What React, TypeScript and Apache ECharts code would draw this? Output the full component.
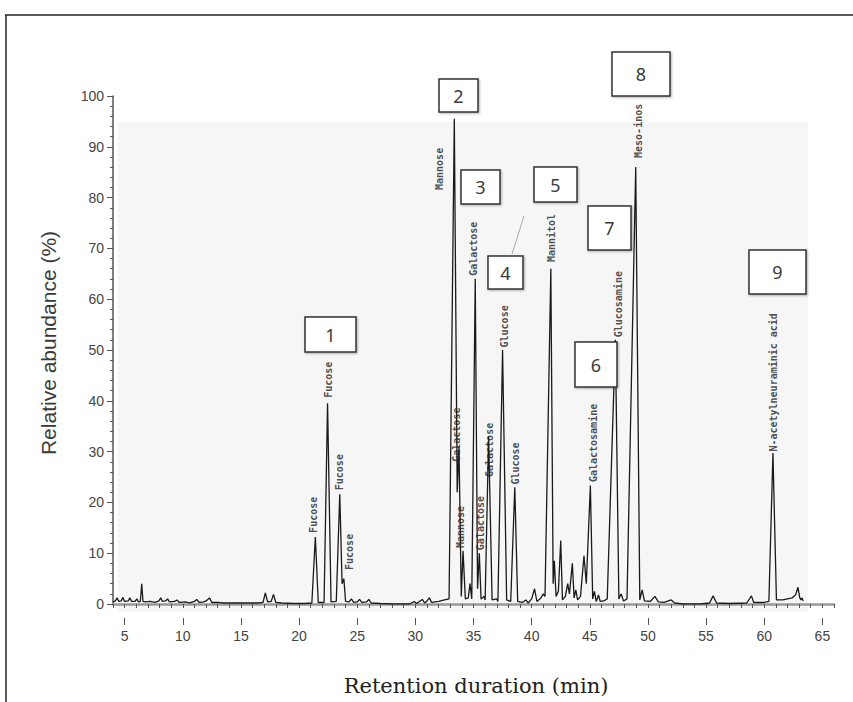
import React, { useEffect, useRef } from "react";
import * as echarts from "echarts";

// Chromatogram trace: [retention time (min), relative abundance (%)]
const trace: [number, number][] = [
  [4.0, 0.4], [4.2, 0.6], [4.35, 1.2], [4.5, 0.5], [4.7, 0.6], [4.85, 1.3], [5.0, 0.5], [5.3, 0.6], [5.45, 1.2], [5.6, 0.5],
  [5.9, 0.5], [6.05, 1.0], [6.2, 0.4], [6.35, 0.5], [6.47, 4.0], [6.58, 0.5], [6.8, 0.4], [7.2, 0.5], [7.6, 0.3], [7.95, 0.6],
  [8.1, 1.2], [8.25, 0.5], [8.5, 0.6], [8.7, 1.0], [8.85, 0.4], [9.3, 0.5], [9.5, 0.8], [9.7, 0.3], [10.2, 0.4], [10.6, 0.2],
  [11.0, 0.5], [11.2, 0.9], [11.4, 0.3], [11.8, 0.4], [12.0, 0.6], [12.3, 1.2], [12.5, 0.3], [13.0, 0.3], [13.5, 0.2], [14.5, 0.2],
  [15.5, 0.2], [16.5, 0.2], [16.9, 0.3], [17.1, 2.2], [17.3, 0.4], [17.6, 0.5], [17.8, 1.9], [18.0, 0.3], [18.5, 0.2], [19.5, 0.1],
  [20.5, 0.1], [21.1, 0.2], [21.4, 13.2], [21.65, 0.3], [22.15, 0.3], [22.45, 39.5], [22.75, 0.4], [23.2, 0.5], [23.5, 21.6], [23.7, 4.0],
  [23.85, 5.0], [24.0, 0.5], [24.3, 0.4], [24.5, 1.0], [24.7, 0.3], [25.0, 0.4], [25.2, 0.9], [25.4, 0.3], [25.8, 0.4], [26.0, 0.9],
  [26.2, 0.2], [27.0, 0.1], [28.0, 0.0], [29.5, 0.0], [29.9, 0.5], [30.1, 0.1], [30.6, 0.9], [30.8, 0.2], [31.0, 0.6], [31.2, 1.2],
  [31.4, 0.3], [32.0, 0.5], [32.5, 0.8], [32.9, 1.0], [33.35, 95.5], [33.6, 22.0], [33.75, 31.0], [33.95, 1.5], [34.1, 10.5], [34.3, 1.0],
  [34.55, 1.2], [34.7, 4.0], [34.85, 1.0], [35.15, 64.0], [35.35, 3.0], [35.5, 10.0], [35.65, 1.0], [35.9, 1.5], [36.0, 0.8], [36.3, 33.0],
  [36.6, 0.8], [37.0, 1.0], [37.1, 0.5], [37.5, 50.0], [37.85, 0.8], [38.2, 0.5], [38.55, 23.0], [38.8, 0.5], [39.2, 0.3], [39.5, 0.8],
  [39.7, 0.2], [40.0, 1.0], [40.25, 3.0], [40.45, 0.5], [40.8, 1.2], [41.0, 2.0], [41.15, 1.5], [41.65, 66.0], [41.85, 4.0], [41.95, 8.5],
  [42.1, 1.5], [42.3, 2.5], [42.5, 12.5], [42.65, 0.8], [42.9, 1.5], [43.1, 4.0], [43.25, 2.0], [43.5, 8.0], [43.65, 1.2], [43.8, 2.8],
  [43.95, 0.8], [44.2, 1.5], [44.5, 9.5], [44.7, 4.0], [45.05, 23.3], [45.25, 1.0], [45.4, 2.5], [45.55, 0.5], [45.75, 1.8], [45.9, 0.5],
  [46.2, 0.6], [46.5, 1.0], [47.2, 52.0], [47.5, 1.0], [47.7, 2.0], [47.9, 0.6], [48.2, 1.0], [48.95, 86.0], [49.3, 0.8], [49.5, 2.8],
  [49.7, 0.6], [50.2, 0.5], [50.6, 1.5], [50.9, 0.4], [51.4, 0.3], [52.0, 0.8], [52.3, 0.2], [53.0, 0.0], [54.5, 0.0], [55.3, 0.2],
  [55.6, 1.6], [55.9, 0.2], [57.0, 0.1], [58.5, 0.2], [58.9, 1.6], [59.1, 0.3], [60.0, 0.3], [60.4, 0.5], [60.75, 29.7], [61.05, 0.8],
  [61.6, 0.8], [62.4, 1.2], [62.7, 1.8], [62.9, 3.3], [63.05, 1.3], [63.15, 0.8], [63.25, 1.2], [63.35, 0.6],
];

// Compound labels written above the peaks
const peakNames = [
  "Fucose", "Fucose", "Fucose", "Fucose",
  "Mannose", "Galactose", "Mannose", "Galactose", "Galactose", "Galactose",
  "Glucose", "Glucose", "Mannitol", "Galactosamine", "Glucosamine", "Meso-inos",
  "N-acetylneuraminic acid",
];
const peakLabelTimes = [
  21.25, 22.55, 23.5, 24.3,
  32.1, 33.5, 33.85, 35.0, 35.6, 36.35,
  37.7, 38.6, 41.7, 45.3, 47.5, 49.2,
  60.8,
];
const peakLabelBase = [
  14.0, 40.6, 22.4, 6.7,
  81.5, 28.0, 11.0, 64.6, 10.6, 25.0,
  50.5, 23.5, 67.3, 24.0, 52.5, 87.8,
  30.0,
];

const xTickValues = [5, 10, 15, 20, 25, 30, 35, 40, 45, 50, 55, 60, 65];
const boxNumbers = ["1", "2", "3", "4", "5", "6", "7", "8", "9"];

// box frames (pixel layout)
const boxRects = [
  [305, 317, 51, 35],
  [439, 79, 39, 33],
  [461, 170, 39, 34],
  [488, 256, 35, 33],
  [534, 167, 43, 35],
  [575, 342, 42, 45],
  [588, 206, 43, 44],
  [612, 52, 58, 44],
  [749, 250, 57, 44],
];

export default function App() {
  const ref = useRef<HTMLDivElement>(null);
  useEffect(() => {
    if (!ref.current) return;
    const chart = echarts.init(ref.current, null, { renderer: "svg" });

    const graphics: any[] = [
      { type: "rect", z: -10, shape: { x: 118, y: 122, width: 690, height: 490 }, style: { fill: "#f6f6f6" }, silent: true },
      { type: "line", shape: { x1: 5, y1: 15, x2: 853, y2: 15 }, style: { stroke: "#222", lineWidth: 1.5 } },
      { type: "line", shape: { x1: 6, y1: 15, x2: 6, y2: 702 }, style: { stroke: "#222", lineWidth: 1.5 } },
      { type: "line", shape: { x1: 524, y1: 216, x2: 512, y2: 254 }, style: { stroke: "#aaa", lineWidth: 1 } },
      {
        type: "text", x: 48, y: 343, rotation: Math.PI / 2,
        style: { text: "Relative abundance (%)", font: '21px "Liberation Sans", Arial, sans-serif', fill: "#3a3a3a", align: "center", verticalAlign: "middle" },
      },
      {
        type: "text", x: 476, y: 686,
        style: { text: "Retention duration (min)", font: '21px "DejaVu Serif", serif', fill: "#222", align: "center", verticalAlign: "middle" },
      },
    ];
    boxRects.forEach((r, i) => {
      graphics.push({
        type: "rect", z: 20,
        shape: { x: r[0], y: r[1], width: r[2], height: r[3] },
        style: { fill: "#fff", stroke: "#333", lineWidth: 1.5, shadowBlur: 2, shadowColor: "rgba(0,0,0,0.3)", shadowOffsetX: 1, shadowOffsetY: 1 },
      });
      graphics.push({
        type: "text", z: 21, x: r[0] + r[2] / 2, y: r[1] + r[3] / 2,
        style: { text: boxNumbers[i], font: '18px "Noto Sans", "Open Sans", sans-serif', fill: "#3a3a3a", align: "center", verticalAlign: "middle" },
      });
    });

    chart.setOption({
      animation: false,
      backgroundColor: "#fff",
      grid: { left: 113, right: 19, top: 96, bottom: 98, containLabel: false },
      xAxis: [
        {
          type: "value", min: 4, max: 66, interval: 1, offset: 14, position: "bottom",
          axisLine: { show: true, lineStyle: { color: "#999", width: 2.5 } },
          axisTick: { show: true, length: 4, lineStyle: { color: "#555", width: 1 } },
          axisLabel: { show: false },
          splitLine: { show: false },
        },
        {
          type: "value", min: 4, max: 66, offset: 14, position: "bottom",
          axisLine: { show: false },
          axisTick: { show: true, length: 7, customValues: xTickValues, lineStyle: { color: "#555", width: 1 } },
          axisLabel: { show: true, customValues: xTickValues, fontSize: 14, color: "#444", margin: 11, fontFamily: '"Liberation Sans", Arial, sans-serif' },
          splitLine: { show: false },
        },
      ],
      yAxis: {
        type: "value", min: 0, max: 100, interval: 10,
        axisLine: { show: true, lineStyle: { color: "#555", width: 1.5 } },
        axisTick: { show: true, length: 6, lineStyle: { color: "#555" } },
        minorTick: { show: true, splitNumber: 5, length: 3, lineStyle: { color: "#555" } },
        axisLabel: { fontSize: 14, color: "#444", margin: 9, fontFamily: '"Liberation Sans", Arial, sans-serif' },
        splitLine: { show: false },
      },
      graphic: graphics,
      series: [
        {
          type: "line", xAxisIndex: 0, data: trace, showSymbol: false, symbol: "none",
          lineStyle: { color: "#1a1a1a", width: 1.3 }, z: 5,
        },
        {
          type: "scatter", xAxisIndex: 0, symbolSize: 0,
          itemStyle: { color: "#222" },
          data: peakLabelTimes.map((t, i) => ({ value: [t, peakLabelBase[i]], name: peakNames[i] })),
          label: {
            show: true, position: "inside", rotate: 90, align: "left", verticalAlign: "middle",
            formatter: (p: any) => p.name,
            fontFamily: '"DejaVu Sans Mono", monospace', fontSize: 10, fontWeight: "bold", color: "#222",
            textBorderWidth: 0, textBorderColor: "transparent",
          },
          z: 6,
        },
      ],
    });
    return () => chart.dispose();
  }, []);
  return <div ref={ref} style={{ position: "fixed", left: 0, top: 0, width: 853, height: 702 }} />;
}
